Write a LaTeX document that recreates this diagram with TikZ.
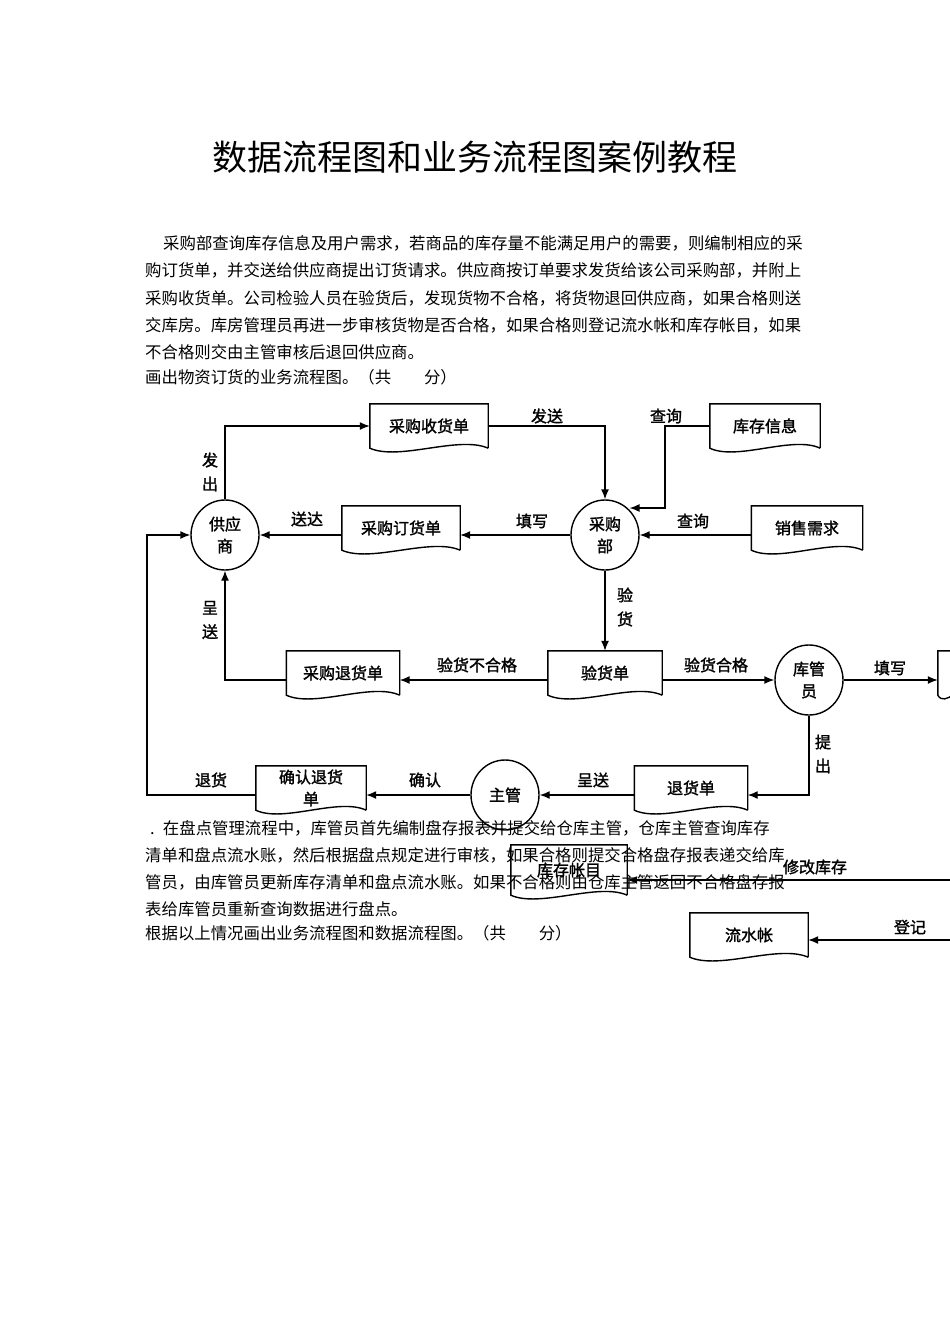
\documentclass[tikz,border=0pt]{standalone}
\usepackage{fontspec}
\usetikzlibrary{shapes.geometric,arrows.meta,calc}
\newfontfamily\cjk{Noto Sans CJK SC}
\newfontfamily\cjkb[FakeBold=1.6]{Noto Sans CJK SC}
\begin{document}
\begin{tikzpicture}[x=1pt,y=-1pt,
 lbl/.style={font=\cjkb\fontsize{16}{18}\selectfont,inner sep=1pt},
 vlbl/.style={lbl,align=center,font=\cjkb\fontsize{16}{24}\selectfont},
 docbox/.style={font=\cjkb\fontsize{16}{18}\selectfont,minimum height=44pt,inner sep=0pt,align=center},
 circ/.style={ellipse,draw,line width=1.4pt,minimum width=68pt,minimum height=70pt,inner sep=0pt,align=center,font=\cjkb\fontsize{16}{22}\selectfont},
 arr/.style={line width=1.4pt,-{Latex[length=10pt,width=8pt]}},
 ln/.style={line width=1.4pt},
 para/.style={anchor=west,inner sep=0pt,font=\cjk\fontsize{16.4}{18}\selectfont}]
\useasboundingbox (0,0) rectangle (950,1344);
\fill[white] (0,0) rectangle (950,1344);
\node[font=\cjk\fontsize{35}{36}\selectfont] (title) at (475,157) {数据流程图和业务流程图案例教程};
\node[para] (p1) at (163,243) {采购部查询库存信息及用户需求，若商品的库存量不能满足用户的需要，则编制相应的采};
\node[para] (p2) at (145,270) {购订货单，并交送给供应商提出订货请求。供应商按订单要求发货给该公司采购部，并附上};
\node[para] (p3) at (145,298) {采购收货单。公司检验人员在验货后，发现货物不合格，将货物退回供应商，如果合格则送};
\node[para] (p4) at (145,325) {交库房。库房管理员再进一步审核货物是否合格，如果合格则登记流水帐和库存帐目，如果};
\node[para] (p5) at (145,352) {不合格则交由主管审核后退回供应商。};
\node[para] (p6) at (145,377) {画出物资订货的业务流程图。（共\hspace{2em}分）};
% paragraph 2
\node[para] (q1) at (150,828) {.\hspace{0.5em}在盘点管理流程中，库管员首先编制盘存报表并提交给仓库主管，仓库主管查询库存};
\node[para] (q2) at (145,855) {清单和盘点流水账，然后根据盘点规定进行审核，如果合格则提交合格盘存报表递交给库};
\node[para] (q3) at (145,882) {管员，由库管员更新库存清单和盘点流水账。如果不合格则由仓库主管返回不合格盘存报};
\node[para] (q4) at (145,909) {表给库管员重新查询数据进行盘点。};
\node[para] (q5) at (145,933) {根据以上情况画出业务流程图和数据流程图。（共\hspace{2em}分）};
% documents
\node[docbox,minimum width=118pt] (shd) at (429,426) {采购收货单};
\node[docbox,minimum width=110pt] (kcxx) at (765,426) {库存信息};
\node[docbox,minimum width=118pt] (dhd) at (401,528) {采购订货单};
\node[docbox,minimum width=111pt] (xsxq) at (807,528) {销售需求};
\node[docbox,minimum width=114pt] (yhd) at (605,673) {验货单};
\node[docbox,minimum width=113pt] (thd) at (343,673) {采购退货单};
\node[docbox,minimum width=30pt] (cut) at (953,673) {};
\node[docbox,minimum width=113pt] (tuihd) at (691,788) {退货单};
\node[docbox,minimum width=110pt,font=\cjkb\fontsize{16}{22}\selectfont] (qrthd) at (311,788) {确认退货\\单};
\node[docbox,minimum width=116pt,minimum height=50pt] (kczm) at (569,870) {库存帐目};
\node[docbox,minimum width=118pt] (lsz) at (749,935) {流水帐};
\foreach \n in {shd,kcxx,dhd,xsxq,yhd,thd,cut,tuihd,qrthd,kczm,lsz}
  \draw[ln] (\n.south east) -- (\n.north east) -- (\n.north west) -- (\n.south west)
   .. controls ($(\n.south west)!0.5!(\n.south)+(0,13)$) and ($(\n.south)!0.5!(\n.south east)+(0,-13)$) .. (\n.south east);
% circles
\node[circ] (gys) at (225,535) {供应\\商};
\node[circ] (cgb) at (605,535) {采购\\部};
\node[circ] (kgy) at (809,680) {库管\\员};
\node[circ] (zg) at (505,795) {主管};
% coordinates
\coordinate (r1) at (952,880);
\coordinate (r2) at (952,940);
\coordinate (cb) at (665,508);
% connectors
\draw[arr] (gys.north) |- (shd.west);
\draw[arr] (shd.east) -| (cgb.north);
\draw[arr] (kcxx.west) -| (cb) -- (cgb.north east |- cb);
\draw[arr] (xsxq.west |- cgb.east) -- (cgb.east);
\draw[arr] (cgb.west) -- (dhd.east |- cgb.west);
\draw[arr] (dhd.west |- gys.east) -- (gys.east);
\draw[arr] (cgb.south) -- (yhd.north);
\draw[arr] (yhd.west |- kgy.west) -- (thd.east |- kgy.west);
\draw[arr] (thd.west |- kgy.west) -| (gys.south);
\draw[arr] (yhd.east |- kgy.west) -- (kgy.west);
\draw[arr] (kgy.east) -- (cut.west |- kgy.east);
\draw[arr] (kgy.south) |- (tuihd.east |- zg.east);
\draw[arr] (tuihd.west |- zg.east) -- (zg.east);
\draw[arr] (zg.west) -- (qrthd.east |- zg.west);
\draw[arr] (qrthd.west |- zg.west) -- (147,795) |- (gys.west);
\draw[arr] (r1) -- (kczm.east |- r1);
\draw[arr] (r2) -- (lsz.east |- r2);
% labels
\node[vlbl] (l1) at (210,472) {发\\出};
\node[lbl] (l2) at (547,416) {发送};
\node[lbl] (l3) at (666,416) {查询};
\node[lbl] (l4) at (693,521) {查询};
\node[lbl] (l5) at (532,521) {填写};
\node[lbl] (l6) at (307,519) {送达};
\node[vlbl] (l7) at (625,607) {验\\货};
\node[vlbl] (l8) at (210,620) {呈\\送};
\node[lbl] (l9) at (477,665) {验货不合格};
\node[lbl] (l10) at (716,665) {验货合格};
\node[lbl] (l11) at (890,668) {填写};
\node[vlbl] (l12) at (823,754) {提\\出};
\node[lbl] (l13) at (593,780) {呈送};
\node[lbl] (l14) at (425,780) {确认};
\node[lbl] (l15) at (211,780) {退货};
\node[lbl] (l16) at (815,867) {修改库存};
\node[lbl] (l17) at (910,927) {登记};
\end{tikzpicture}
\end{document}
